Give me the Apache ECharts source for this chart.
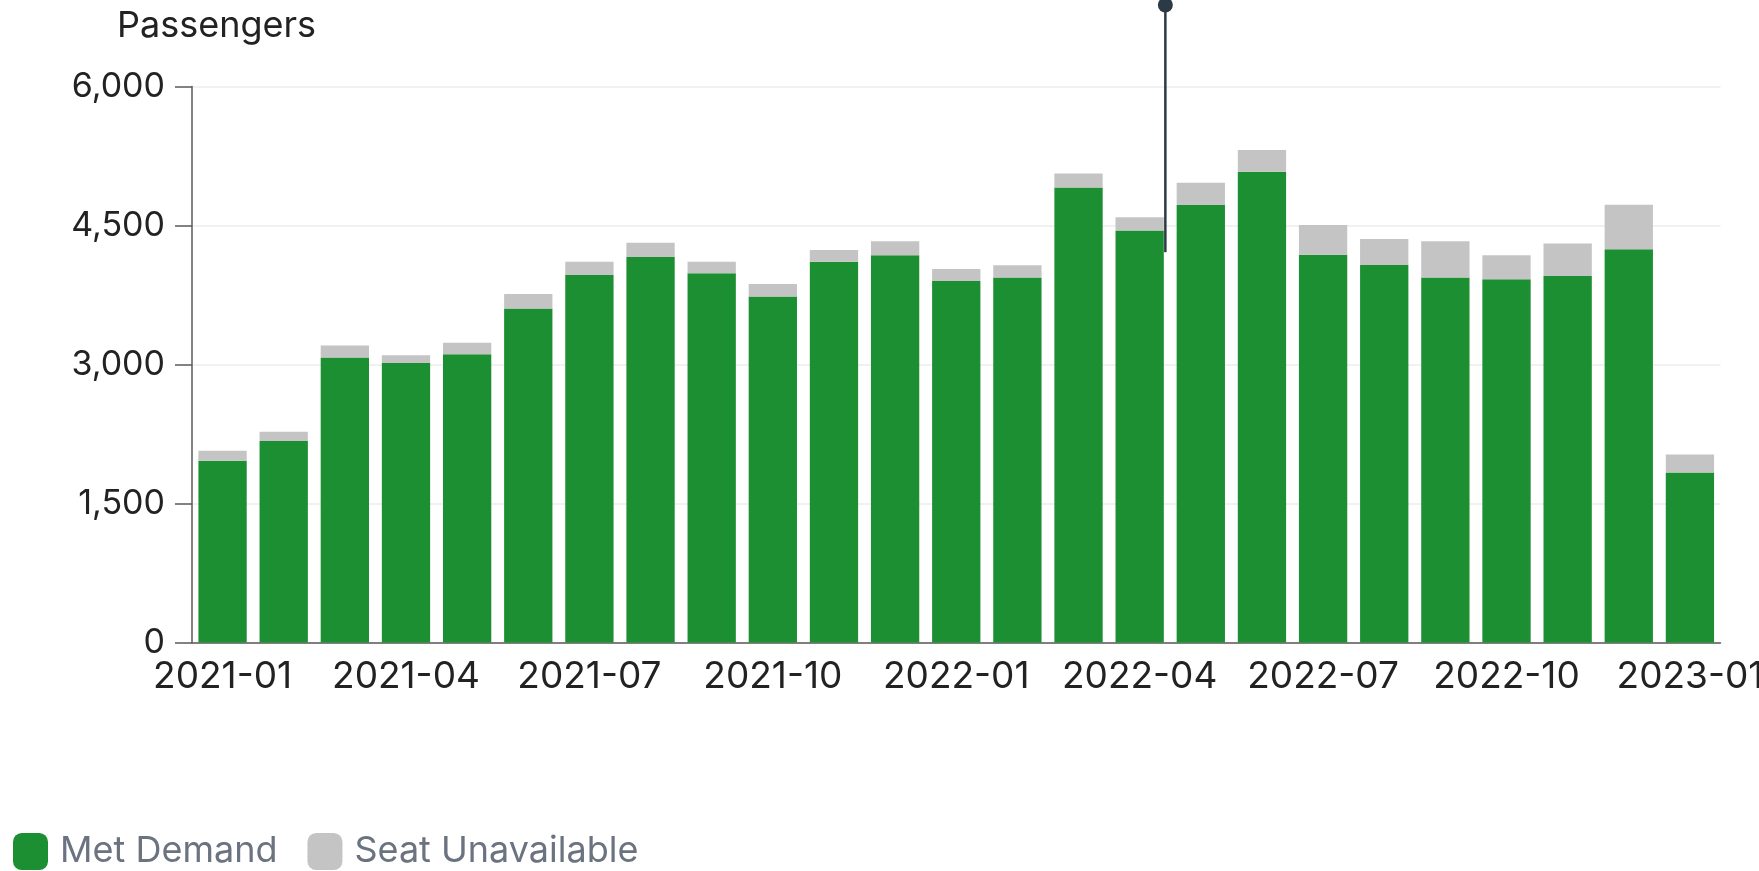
<!DOCTYPE html>
<html>
<head>
<meta charset="utf-8">
<title>Passengers</title>
<script src="https://cdn.jsdelivr.net/npm/echarts@6/dist/echarts.min.js"></script>
<style>
  html, body { margin: 0; padding: 0; background: #ffffff; }
  #chart { width: 1759px; height: 871px; }
</style>
</head>
<body>
<div id="chart"></div>
<script>
// Monthly passenger counts, January 2021 to January 2023
const months = [
  '2021-01', '2021-02', '2021-03', '2021-04', '2021-05', '2021-06',
  '2021-07', '2021-08', '2021-09', '2021-10', '2021-11', '2021-12',
  '2022-01', '2022-02', '2022-03', '2022-04', '2022-05', '2022-06',
  '2022-07', '2022-08', '2022-09', '2022-10', '2022-11', '2022-12',
  '2023-01'
];
const metDemand = [
  1960, 2175, 3075, 3015, 3110, 3605,
  3965, 4160, 3985, 3735, 4110, 4180,
  3900, 3940, 4910, 4445, 4720, 5080,
  4185, 4075, 3940, 3920, 3955, 4245,
  1835
];
const seatUnavailable = [
  110, 100, 130, 85, 125, 155,
  145, 155, 125, 135, 125, 150,
  130, 130, 150, 145, 240, 235,
  320, 280, 390, 260, 350, 480,
  195
];
const yTicks = [0, 1500, 3000, 4500, 6000];

// Event marker: position in months from 2021-01 and its vertical extent
const eventMonth = [15.92, 15.92];
const eventLevel = [4212, 6880];

const FONT = 'Inter, "Noto Sans", sans-serif';
const GREEN = '#1b8f31';
const GREY = '#c4c4c4';

const chart = echarts.init(document.getElementById('chart'), null, { renderer: 'canvas' });

chart.setOption({
  animation: false,
  backgroundColor: '#ffffff',
  title: {
    text: 'Passengers',
    left: 112,
    top: 3,
    textStyle: { fontFamily: FONT, fontSize: 36, fontWeight: 'normal', color: '#222222' }
  },
  legend: {
    data: ['Met Demand', 'Seat Unavailable'],
    left: 13,
    bottom: 1,
    padding: 0,
    icon: 'roundRect',
    itemWidth: 35,
    itemHeight: 37,
    itemGap: 30,
    textStyle: { fontFamily: FONT, fontSize: 36, color: '#6b7280', padding: [0, 0, 0, 7] }
  },
  grid: {
    left: 192, right: 38.5, top: 86.5, bottom: 228.5,
    outerBoundsMode: 'none',
    containLabel: false
  },
  xAxis: [
    {
      type: 'category',
      data: months,
      axisLine: { show: true, lineStyle: { color: '#5a5a5a', width: 1.5 } },
      axisTick: { show: false },
      axisLabel: {
        interval: 2,
        margin: 16,
        fontFamily: FONT,
        fontSize: 37,
        color: '#222222'
      },
      splitLine: { show: false }
    },
    {
      type: 'value',
      min: 0,
      max: months.length,
      show: false
    }
  ],
  yAxis: {
    type: 'value',
    min: yTicks[0],
    max: yTicks[yTicks.length - 1],
    interval: yTicks[1] - yTicks[0],
    axisLine: { show: true, lineStyle: { color: '#5a5a5a', width: 1.5 } },
    axisTick: { show: true, length: 17, lineStyle: { color: '#5a5a5a', width: 1.5 } },
    axisLabel: {
      margin: 27,
      fontFamily: FONT,
      fontSize: 34,
      color: '#222222',
      formatter: v => v.toLocaleString('en-US')
    },
    splitLine: { show: true, lineStyle: { color: '#ececec', width: 1.5 } }
  },
  series: [
    {
      name: 'Met Demand',
      type: 'bar',
      stack: 'passengers',
      data: metDemand,
      barCategoryGap: '21%',
      itemStyle: { color: GREEN }
    },
    {
      name: 'Seat Unavailable',
      type: 'bar',
      stack: 'passengers',
      data: seatUnavailable,
      barCategoryGap: '21%',
      itemStyle: { color: GREY }
    },
    {
      name: 'Event',
      type: 'line',
      xAxisIndex: 1,
      clip: false,
      z: 5,
      lineStyle: { color: '#2b3a44', width: 2.5 },
      itemStyle: { color: '#2b3a44' },
      data: [
        { value: [eventMonth[0], eventLevel[0]], symbol: 'none' },
        { value: [eventMonth[1], eventLevel[1]], symbol: 'circle', symbolSize: 15 }
      ]
    }
  ]
});
</script>
</body>
</html>
